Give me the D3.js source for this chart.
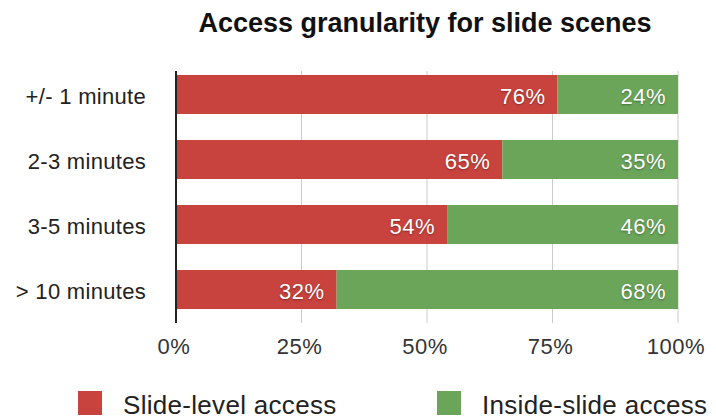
<!DOCTYPE html>
<html><head><meta charset="utf-8">
<script src="https://cdn.jsdelivr.net/npm/d3@7"></script>
<style>body{margin:0;background:#fff}svg{font-family:"Liberation Sans",Arial,Helvetica,sans-serif}</style>
</head><body><svg id="c" width="716" height="419"></svg>
<script>
const categories = ["+/- 1 minute","2-3 minutes","3-5 minutes","> 10 minutes"];
const slideLevel = [76,65,54,32];
const insideSlide = [24,35,46,68];
const seriesNames = ["Slide-level access","Inside-slide access"];
const seriesColors = ["#c8423e","#6aa55a"];
const tickValues = [0,25,50,75,100];

const svg = d3.select("#c");
const x = d3.scaleLinear().domain([0,100]).range([176,678]);
const y = d3.scaleBand().domain(categories).range([62,322]).paddingInner(0.4).paddingOuter(0.2);

svg.append("text").attr("x",425).attr("y",32).attr("text-anchor","middle")
  .attr("font-size",27).attr("font-weight","bold").attr("fill","#111").text("Access granularity for slide scenes");

// grid
svg.append("g").selectAll("line").data(tickValues.slice(1)).join("line")
  .attr("x1",d=>x(d)).attr("x2",d=>x(d)).attr("y1",71).attr("y2",323)
  .attr("stroke","#cccccc").attr("stroke-width",1);

const stackData = categories.map((c,i)=>({cat:c, s0:slideLevel[i], s1:insideSlide[i]}));
const stacked = d3.stack().keys(["s0","s1"])(stackData);

const g = svg.append("g");
stacked.forEach((layer,li)=>{
  g.selectAll(null).data(layer).join("rect")
    .attr("x",d=>x(d[0])).attr("width",d=>x(d[1])-x(d[0]))
    .attr("y",d=>y(d.data.cat)).attr("height",y.bandwidth())
    .attr("fill",seriesColors[li]);
  g.selectAll(null).data(layer).join("text")
    .attr("x",d=>x(d[1])-12).attr("y",d=>y(d.data.cat)+y.bandwidth()/2+9)
    .attr("text-anchor","end").attr("font-size",22).attr("letter-spacing",0.5).attr("fill","#fff")
    .style("text-shadow","0 1px 2px rgba(0,0,0,0.35)")
    .text(d=>(d[1]-d[0])+"%");
});

// baseline axis
svg.append("line").attr("x1",x(0)).attr("x2",x(0)).attr("y1",71).attr("y2",323)
  .attr("stroke","#222").attr("stroke-width",2);

// category labels
svg.append("g").selectAll("text").data(categories).join("text")
  .attr("x",146).attr("y",d=>y(d)+y.bandwidth()/2+9).attr("text-anchor","end")
  .attr("font-size",22).attr("letter-spacing",0.3).attr("fill","#222").text(d=>d);

// x tick labels
svg.append("g").selectAll("text").data(tickValues).join("text")
  .attr("x",d=>x(d)-2).attr("y",354).attr("text-anchor","middle")
  .attr("font-size",22).attr("letter-spacing",0.5).attr("fill","#333").text(d=>d+"%");

// legend
const legX = [78,437];
seriesNames.forEach((n,i)=>{
  svg.append("rect").attr("x",legX[i]).attr("y",391).attr("width",24).attr("height",24).attr("fill",seriesColors[i]);
  svg.append("text").attr("x",legX[i]+45).attr("y",414).attr("font-size",26).attr("letter-spacing",0.3).attr("fill","#222").text(n);
});
</script></body></html>
